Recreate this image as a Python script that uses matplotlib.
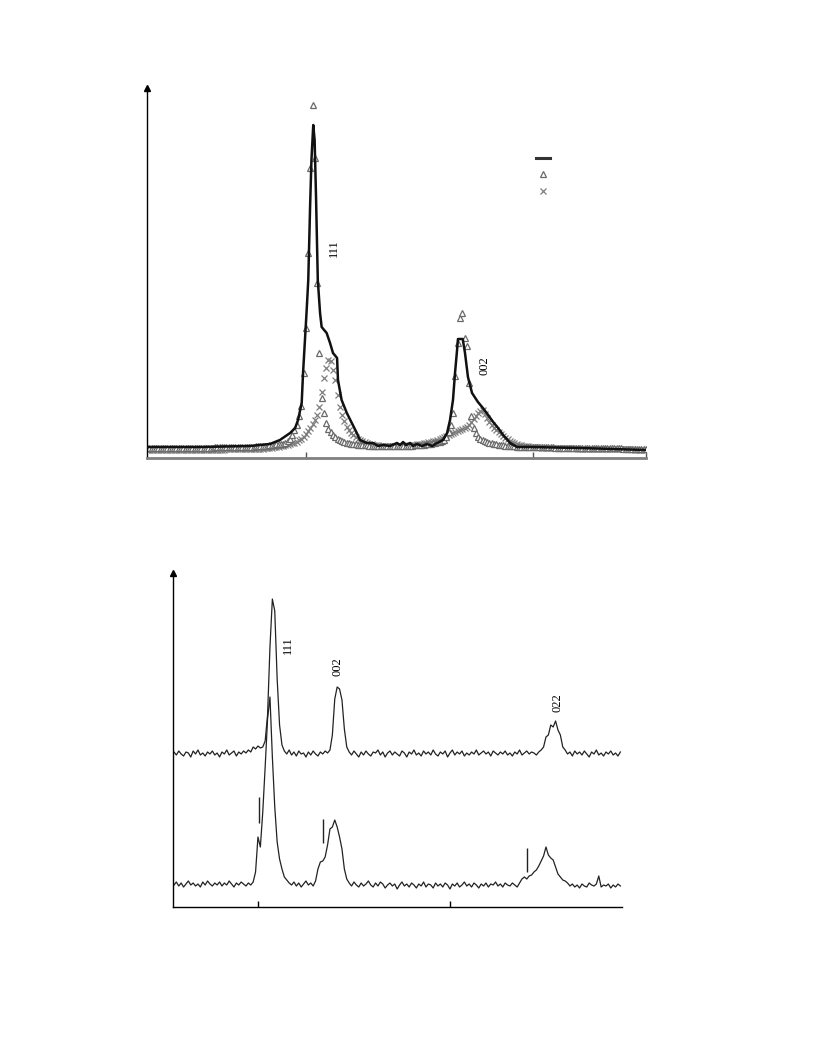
import numpy as np
import matplotlib
matplotlib.use("Agg")
import matplotlib.pyplot as plt
from matplotlib.lines import Line2D

plt.rcParams['font.family'] = ['Liberation Serif', 'DejaVu Serif']

# ---------------- top panel: measured profile and two fitted components ----------------
meas_two_theta = [33.04, 35.34, 37.54, 38.42, 38.86, 39.31, 39.53, 39.66, 39.82, 39.88,
                  40.04, 40.11, 40.19, 40.25, 40.33, 40.39, 40.45, 40.53, 40.63, 40.70,
                  40.92, 41.07, 41.20, 41.38, 41.42, 41.58, 41.81, 42.03, 42.25, 42.39,
                  42.69, 42.96, 43.19, 43.41, 43.71, 44.02, 44.16, 44.29, 44.42, 44.60,
                  44.73, 44.90, 45.13, 45.35, 45.57, 45.79, 46.05, 46.23, 46.36, 46.49,
                  46.58, 46.67, 46.71, 46.92, 47.02, 47.15, 47.33, 47.59, 47.81, 48.04,
                  48.26, 48.48, 48.70, 49.01, 49.31, 49.89, 52.09, 54.96]
meas_intensity = [11, 11, 12, 14, 18, 25, 30, 38, 55, 85,
                  148, 178, 251, 298, 333, 318, 263, 178, 145, 131,
                  125, 115, 105, 100, 78, 58, 45, 35, 25, 18,
                  15, 15, 12, 13, 12, 15, 13, 16, 13, 15,
                  12, 14, 12, 14, 12, 15, 18, 25, 38, 58,
                  85, 108, 119, 119, 105, 81, 65, 56, 50, 43,
                  36, 30, 23, 15, 11, 11, 10, 8]

FIT_START, FIT_STEP = 33.0, 0.1
fit_narrow = [10, 10, 10, 10, 10, 10, 10, 10, 10, 10,
              10, 10, 10, 10, 10, 10, 10, 10, 10, 10,
              10, 10, 10, 10, 10, 10, 10, 10, 10, 10,
              11, 11, 11, 11, 11, 11, 11, 11, 11, 11,
              11, 11, 11, 11, 11, 11, 11, 11, 12, 12,
              12, 12, 12, 12, 13, 13, 13, 14, 14, 14,
              14, 15, 17, 19, 23, 28, 33, 42, 52, 85,
              130, 205, 290, 353, 300, 175, 105, 60, 45, 35,
              29, 26, 23, 21, 19, 18, 17, 16, 15, 15,
              14, 14, 14, 13, 13, 13, 13, 13, 12, 12,
              12, 12, 12, 12, 12, 12, 12, 12, 12, 12,
              12, 12, 12, 12, 12, 12, 12, 12, 13, 13,
              13, 13, 13, 14, 14, 14, 15, 15, 16, 16,
              17, 18, 21, 26, 33, 45, 82, 115, 140, 145,
              120, 112, 75, 42, 30, 25, 21, 19, 18, 17,
              16, 15, 15, 14, 14, 13, 13, 13, 12, 12,
              12, 12, 12, 11, 11, 11, 11, 11, 11, 11,
              11, 11, 11, 11, 11, 11, 11, 11, 11, 11,
              10, 10, 10, 10, 10, 10, 10, 10, 10, 10,
              10, 10, 10, 10, 10, 10, 10, 10, 10, 10,
              10, 10, 10, 10, 10, 10, 10, 10, 10, 10,
              9, 9, 9, 9, 9, 9, 9, 9, 9, 9,
              9]
fit_broad = [8, 8, 8, 8, 8, 8, 8, 8, 8, 8,
             8, 8, 8, 8, 8, 8, 8, 8, 8, 8,
             8, 8, 8, 8, 8, 8, 8, 8, 8, 8,
             8, 8, 8, 8, 8, 9, 9, 9, 9, 9,
             9, 9, 9, 9, 9, 9, 9, 9, 9, 9,
             9, 9, 10, 10, 10, 10, 11, 11, 11, 12,
             12, 13, 13, 14, 15, 15, 16, 18, 19, 21,
             24, 27, 30, 34, 38, 43, 51, 66, 80, 90,
             98, 97, 88, 78, 63, 51, 43, 37, 31, 28,
             25, 23, 21, 19, 18, 17, 16, 15, 14, 14,
             13, 13, 13, 12, 12, 12, 12, 12, 12, 12,
             12, 12, 12, 12, 12, 13, 13, 13, 13, 14,
             14, 14, 15, 15, 16, 16, 17, 17, 18, 19,
             20, 21, 22, 23, 24, 25, 26, 27, 28, 29,
             30, 31, 33, 36, 39, 42, 45, 47, 48, 44,
             40, 36, 33, 30, 28, 26, 24, 22, 20, 19,
             17, 16, 15, 14, 13, 13, 12, 12, 12, 11,
             11, 11, 11, 11, 10, 10, 10, 10, 10, 10,
             10, 10, 10, 10, 10, 10, 10, 10, 10, 10,
             9, 9, 9, 9, 9, 9, 9, 9, 9, 9,
             9, 9, 9, 9, 9, 9, 9, 9, 9, 9,
             9, 9, 9, 9, 9, 8, 8, 8, 8, 8,
             8]

top_labels = ["111", "002"]
top_label_x = [41.22, 47.9]
top_label_y = [210, 92]
top_xticks = [40, 50, 55]

# ---------------- bottom panel: two diffraction patterns ----------------
SCAN_START, SCAN_STEP = 31.25, 0.25
upper_scan = [155, 152, 156, 153, 151, 155, 154, 150, 156, 153,
              157, 152, 154, 151, 155, 153, 156, 152, 154, 150,
              155, 153, 157, 152, 154, 156, 151, 155, 153, 156,
              154, 157, 155, 160, 158, 161, 159, 160, 166, 192,
              260, 308, 296, 228, 182, 162, 156, 153, 157, 152,
              155, 151, 156, 153, 154, 150, 155, 152, 156, 153,
              151, 155, 153, 156, 154, 157, 172, 208, 220, 218,
              207, 178, 160, 155, 152, 156, 153, 150, 155, 152,
              156, 153, 151, 155, 154, 157, 152, 155, 150, 154,
              156, 152, 155, 153, 151, 156, 154, 150, 155, 153,
              157, 152, 154, 151, 156, 153, 155, 152, 157, 153,
              151, 155, 153, 156, 150, 154, 157, 152, 155, 153,
              156, 151, 154, 152, 155, 153, 157, 152, 154, 156,
              153, 155, 151, 156, 154, 152, 155, 153, 156, 152,
              154, 151, 155, 153, 157, 152, 154, 156, 153, 155,
              154, 152, 155, 157, 160, 170, 172, 182, 180, 186,
              177, 172, 160, 157, 153, 155, 151, 156, 153, 155,
              152, 156, 153, 150, 155, 153, 157, 152, 154, 151,
              155, 153, 156, 152, 154, 151, 155]
lower_scan = [22, 25, 21, 24, 20, 23, 26, 22, 24, 21,
              23, 20, 25, 22, 26, 23, 21, 24, 22, 25,
              21, 24, 22, 26, 23, 20, 24, 22, 25, 23,
              21, 24, 22, 25, 35, 70, 60, 95, 140, 188,
              210, 150, 100, 65, 48, 38, 30, 27, 24, 22,
              25, 21, 24, 20, 23, 26, 22, 24, 21, 26,
              38, 45, 46, 50, 62, 78, 80, 87, 80, 70,
              58, 38, 28, 24, 21, 25, 22, 20, 24, 21,
              23, 26, 22, 20, 24, 21, 25, 23, 19, 22,
              24, 21, 23, 18, 22, 25, 21, 23, 20, 24,
              22, 19, 23, 21, 25, 20, 23, 22, 19, 24,
              21, 23, 20, 24, 22, 18, 23, 21, 24, 20,
              22, 25, 21, 23, 20, 24, 22, 19, 23, 21,
              24, 20, 23, 22, 25, 21, 23, 20, 24, 22,
              21, 24, 22, 20, 24, 28, 30, 28, 31, 32,
              35, 37, 41, 46, 51, 60, 52, 49, 47, 40,
              33, 30, 27, 26, 24, 21, 23, 20, 22, 19,
              23, 21, 20, 24, 22, 21, 23, 31, 20, 22,
              21, 23, 19, 22, 20, 23, 21]

ref_positions = [40.1, 46.8, 68.0]
ref_low = [84, 64, 35]
ref_high = [110, 88, 59]

bottom_labels = ["111", "002", "022"]
bottom_label_x = [43.1, 48.33, 71.15]
bottom_label_y = [262, 240, 204]
bottom_xticks = [40, 60]

# ---------------- figure ----------------
W, H = 816, 1056
fig = plt.figure(figsize=(W / 100, H / 100), dpi=100)

ax1 = fig.add_axes([147 / W, 1 - 458 / H, 499 / W, 368 / H])
fit_x = FIT_START + FIT_STEP * np.arange(len(fit_narrow))

MS = 4.3
ax1.plot(fit_x, fit_broad, linestyle='none', marker='x', ms=MS, mew=0.9,
         color='#7d7d7d', zorder=2)
ax1.plot(fit_x, fit_narrow, linestyle='none', marker='^', ms=MS, mew=0.9,
         mfc='white', mec='#6a6a6a', zorder=2.5)
ax1.plot(meas_two_theta, meas_intensity, color='#111111', lw=1.8, zorder=3)

for t, xx, yy in zip(top_labels, top_label_x, top_label_y):
    ax1.text(xx, yy, t, rotation=90, ha='center', va='center', fontsize=9)

h_line = Line2D([], [], color='#333333', lw=2.2)
h_tri = Line2D([], [], linestyle='none', marker='^', ms=MS, mew=0.9, mfc='white', mec='#6a6a6a')
h_x = Line2D([], [], linestyle='none', marker='x', ms=MS, mew=0.9, color='#7d7d7d')
ax1.legend([h_line, h_tri, h_x], [' ', ' ', ' '], loc='upper left',
           bbox_to_anchor=(0.768, 0.846), frameon=False, fontsize=9,
           handlelength=1.1, handletextpad=0.2, labelspacing=0.38, borderpad=0)

ax1.set_xlim(33, 55)
ax1.set_ylim(0, 368)
ax1.spines['top'].set_visible(False)
ax1.spines['right'].set_visible(False)
ax1.spines['bottom'].set_color('#808080')
ax1.spines['bottom'].set_linewidth(2.0)
ax1.spines['left'].set_linewidth(1.0)
ax1.set_xticks(top_xticks)
ax1.set_xticklabels([])
ax1.tick_params(axis='x', direction='in', length=4, width=1, color='#555555')
ax1.set_yticks([])
ax1.plot([0], [1.005], marker='^', ms=4, color='k', transform=ax1.transAxes, clip_on=False)

ax2 = fig.add_axes([173 / W, 1 - 907 / H, 449 / W, 332 / H])
scan_x = SCAN_START + SCAN_STEP * np.arange(len(upper_scan))
ax2.plot(scan_x, upper_scan, color='#222222', lw=0.9)
ax2.plot(scan_x, lower_scan, color='#222222', lw=0.9)
ax2.vlines(ref_positions, ref_low, ref_high, color='#222222', lw=1.0)
for t, xx, yy in zip(bottom_labels, bottom_label_x, bottom_label_y):
    ax2.text(xx, yy, t, rotation=90, ha='center', va='center', fontsize=9)

ax2.set_xlim(31.15, 77.92)
ax2.set_ylim(0, 332)
ax2.spines['top'].set_visible(False)
ax2.spines['right'].set_visible(False)
ax2.spines['bottom'].set_linewidth(1.0)
ax2.spines['left'].set_linewidth(1.0)
ax2.set_xticks(bottom_xticks)
ax2.set_xticklabels([])
ax2.tick_params(axis='x', direction='in', length=4, width=1)
ax2.set_yticks([])
ax2.plot([0], [1.005], marker='^', ms=4, color='k', transform=ax2.transAxes, clip_on=False)

fig.savefig('out.png', dpi=100)
